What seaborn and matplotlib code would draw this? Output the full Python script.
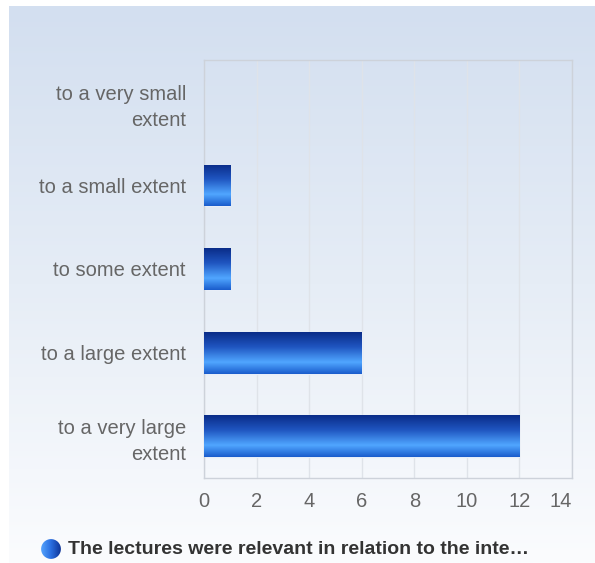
import numpy as np
import pandas as pd
import matplotlib
matplotlib.use("Agg")
import matplotlib.pyplot as plt
import matplotlib.transforms as mtransforms
from matplotlib.colors import LinearSegmentedColormap
from matplotlib.patches import Circle
import seaborn as sns

# data
categories = ["to a very small\nextent", "to a small extent", "to some extent",
              "to a large extent", "to a very large\nextent"]
counts = [0, 1, 1, 6, 12]
x_ticks = [0, 2, 4, 6, 8, 10, 12, 14]
legend_label = "The lectures were relevant in relation to the inte\u2026"

df = pd.DataFrame({"category": categories, "count": counts})

sns.set_theme(style="white")
plt.rcParams["font.family"] = ["Liberation Sans", "DejaVu Sans"]

W, H = 595, 563
fig = plt.figure(figsize=(W / 100, H / 100), dpi=100)
fig.patch.set_facecolor("white")

# background panel with vertical gradient
bg = fig.add_axes([9 / W, 0, 1 - 9 / W, 1 - 6 / H])
bg_cmap = LinearSegmentedColormap.from_list("bg", ["#d3dff0", "#e6edf6", "#fbfcfe"])
bg.imshow(np.linspace(0, 1, 256).reshape(-1, 1), aspect="auto", cmap=bg_cmap,
          extent=[0, 1, 0, 1], origin="upper")
bg.set_axis_off()

ax = fig.add_axes([204 / W, 1 - 478 / H, (572 - 204) / W, (478 - 60) / H])
ax.set_facecolor("none")

sns.barplot(data=df, x="count", y="category", orient="h", color="#2f6fd8",
            width=0.5, ax=ax, edgecolor="#e8eef8", linewidth=1)

# gradient fill on each bar
bar_cmap = LinearSegmentedColormap.from_list(
    "bar", [(0, "#0a2c88"), (0.35, "#1f55c0"), (0.72, "#50a6ff"), (1, "#1a5ccc")])
grad = np.linspace(0, 1, 128).reshape(-1, 1)
for p in ax.patches:
    w = p.get_width()
    if w <= 0:
        continue
    x0, y0 = p.get_x(), p.get_y()
    h = p.get_height()
    im = ax.imshow(grad, aspect="auto", cmap=bar_cmap,
                   extent=[x0, x0 + w, y0 + h, y0], origin="upper", zorder=3)
    im.set_clip_path(p)

ax.set_xlim(0, 14)
ax.set_ylim(4.5, -0.5)
ax.set_xticks(x_ticks)
ax.set_xlabel("")
ax.set_ylabel("")
ax.grid(axis="x", color="#dfe3e9", linewidth=1)
ax.set_axisbelow(True)
for s in ax.spines.values():
    s.set_visible(True)
    s.set_color("#cdd2da")
    s.set_linewidth(1)
ax.tick_params(axis="y", length=0, pad=13, labelsize=14.5, labelcolor="#666666")
ax.tick_params(axis="x", length=0, pad=10, labelsize=14.5, labelcolor="#666666")
for lbl in ax.get_yticklabels():
    lbl.set_linespacing(1.45)

# last x label sits a little inside the frame, as in the original
fig.canvas.draw()
last = ax.get_xticklabels()[-1]
last.set_transform(last.get_transform() +
                   mtransforms.ScaledTranslation(-11 / 100, 0, fig.dpi_scale_trans))

# legend: gradient circle + bold text
lax = fig.add_axes([40 / W, 1 - 560 / H, 22 / W, 22 / H])
lax.set_xlim(0, 1)
lax.set_ylim(0, 1)
lax.set_axis_off()
circ = Circle((0.5, 0.5), 0.45, transform=lax.transAxes, facecolor="none", edgecolor="none")
lax.add_patch(circ)
leg_cmap = LinearSegmentedColormap.from_list("leg", ["#5aa8ff", "#2a6ee0", "#0c2f90"])
lim = lax.imshow(np.linspace(0, 1, 64).reshape(1, -1), aspect="auto", cmap=leg_cmap,
                 extent=[0, 1, 0, 1])
lim.set_clip_path(circ)
fig.text(68 / W, 1 - 549 / H, legend_label, fontsize=14, fontweight="bold",
         color="#333333", va="center", ha="left")

fig.savefig("out.png", dpi=100)
